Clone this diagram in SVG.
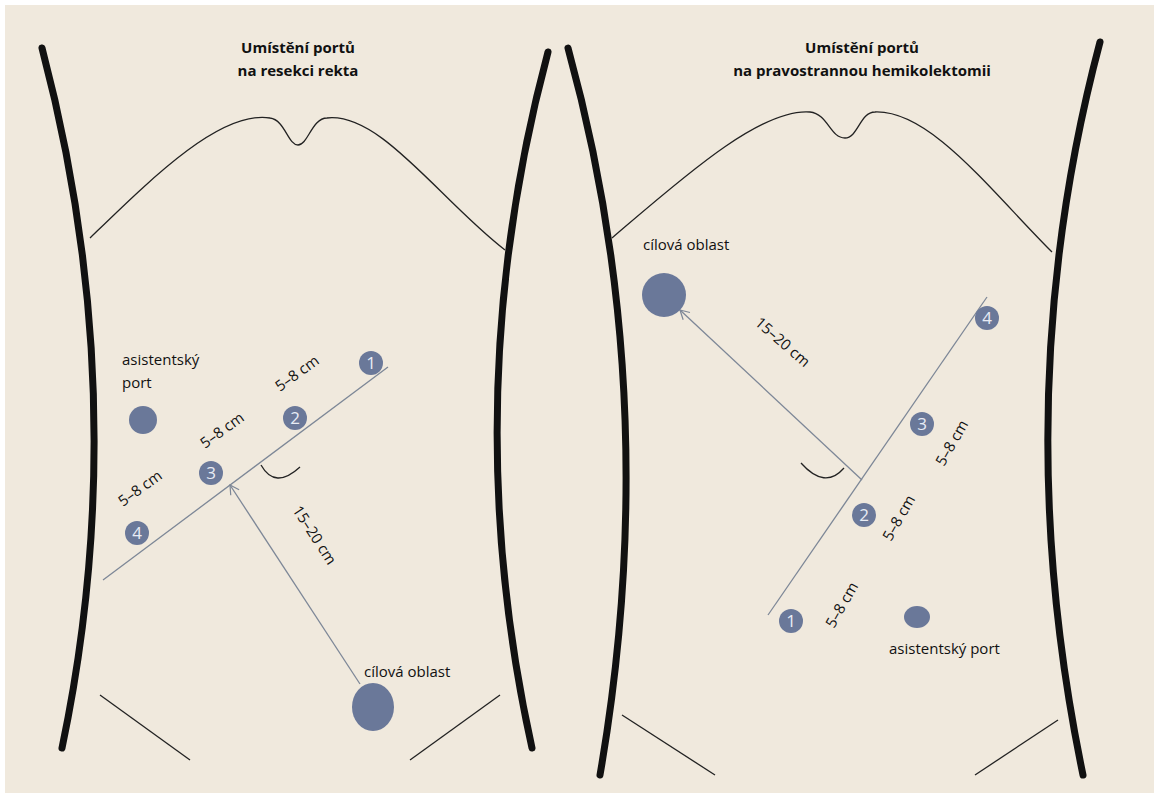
<svg xmlns="http://www.w3.org/2000/svg" width="1159" height="800" viewBox="0 0 1159 800">
<defs>
<style>
.body{fill:none;stroke:#111;stroke-width:7;stroke-linecap:round}
.thin{fill:none;stroke:#222;stroke-width:1.3}
.axis{fill:none;stroke:#7d8797;stroke-width:1.3}
.port{fill:#6a7899}
.num{font-family:"Open Sans","Liberation Sans",sans-serif;font-size:17px;fill:#e8ecf5;text-anchor:middle}
.lbl{font-family:"Open Sans","Liberation Sans",sans-serif;font-size:15px;fill:#111}
.title{font-family:"Open Sans","Liberation Sans",sans-serif;font-size:15px;font-weight:bold;fill:#111;text-anchor:middle}
</style>
<marker id="ah" markerWidth="12" markerHeight="12" refX="10" refY="6" orient="auto" markerUnits="userSpaceOnUse">
<path d="M1,1 L10,6 L1,11" fill="none" stroke="#7d8797" stroke-width="1.2"/>
</marker>
</defs>
<rect width="1159" height="800" fill="#fff"/>
<rect x="5" y="5" width="1149" height="788" fill="#f0e9dd"/>
<g id="bodies">
<path class="body" d="M42,48 Q135,400 62,748"/>
<path class="body" d="M548,52 Q455,400 532,748"/>
<path class="body" d="M568,48 Q665,400 600,775"/>
<path class="body" d="M1100,42 Q1005,400 1083,775"/>
<path class="thin" d="M90,238 C150,180 220,110 270,118 C285,120 288,145 298,145 C308,145 312,118 327,118 C380,112 440,200 505,250"/>
<path class="thin" d="M612,238 C680,180 760,108 810,112 C828,114 830,138 845,138 C858,138 860,112 875,112 C930,110 990,190 1052,252"/>
<line class="thin" x1="100" y1="695" x2="190" y2="760"/>
<line class="thin" x1="410" y1="760" x2="500" y2="695"/>
<line class="thin" x1="622" y1="715" x2="715" y2="775"/>
<line class="thin" x1="975" y1="775" x2="1058" y2="720"/>
</g>
<g id="titles">
<text class="title" x="298" y="53">Umístění portů</text>
<text class="title" x="298" y="76">na resekci rekta</text>
<text class="title" x="862" y="53">Umístění portů</text>
<text class="title" x="862" y="76">na pravostrannou hemikolektomii</text>
</g>
<g id="connectors">
<line class="axis" x1="103" y1="580" x2="388" y2="367"/>
<line class="axis" x1="360" y1="684" x2="230" y2="485" marker-end="url(#ah)"/>
<path class="thin" d="M261,465 Q275,490 300,467" stroke-width="1.6"/>
<line class="axis" x1="768" y1="615" x2="987" y2="297"/>
<line class="axis" x1="862" y1="480" x2="680" y2="310" marker-end="url(#ah)"/>
<path class="thin" d="M801,463 Q825,490 844,468" stroke-width="1.6"/>
</g>
<g id="left-ports">
<g id="L1"><circle class="port" cx="371" cy="363" r="12"/><text class="num" x="371" y="369">1</text></g>
<g id="L2"><circle class="port" cx="295" cy="418" r="12"/><text class="num" x="295" y="424">2</text></g>
<g id="L3"><circle class="port" cx="211" cy="473" r="12"/><text class="num" x="211" y="479">3</text></g>
<g id="L4"><circle class="port" cx="137" cy="533" r="12"/><text class="num" x="137" y="539">4</text></g>
<g id="Lassist"><circle class="port" cx="143" cy="420" r="14"/><text class="lbl" x="122" y="365">asistentský</text><text class="lbl" x="122" y="388">port</text></g>
<g id="Ltarget"><ellipse class="port" cx="373" cy="707" rx="21" ry="24"/><text class="lbl" x="364" y="677">cílová oblast</text></g>
<text class="lbl" transform="translate(280,392) rotate(-36)">5–8 cm</text>
<text class="lbl" transform="translate(205,449) rotate(-36)">5–8 cm</text>
<text class="lbl" transform="translate(123,507) rotate(-36)">5–8 cm</text>
<text class="lbl" transform="translate(292,510) rotate(57)">15–20 cm</text>
</g>
<g id="right-ports">
<g id="R4"><circle class="port" cx="987" cy="318" r="12"/><text class="num" x="987" y="324">4</text></g>
<g id="R3"><circle class="port" cx="922" cy="424" r="12"/><text class="num" x="922" y="430">3</text></g>
<g id="R2"><circle class="port" cx="864" cy="515" r="12"/><text class="num" x="864" y="521">2</text></g>
<g id="R1"><circle class="port" cx="791" cy="621" r="12"/><text class="num" x="791" y="627">1</text></g>
<g id="Rassist"><ellipse class="port" cx="917" cy="617" rx="13" ry="11"/><text class="lbl" x="889" y="654">asistentský port</text></g>
<g id="Rtarget"><ellipse class="port" cx="664" cy="295" rx="22" ry="22"/><text class="lbl" x="643" y="250">cílová oblast</text></g>
<text class="lbl" transform="translate(944,467) rotate(-60)">5–8 cm</text>
<text class="lbl" transform="translate(891,542) rotate(-60)">5–8 cm</text>
<text class="lbl" transform="translate(834,629) rotate(-60)">5–8 cm</text>
<text class="lbl" transform="translate(754,324) rotate(41)">15–20 cm</text>
</g>
</svg>
